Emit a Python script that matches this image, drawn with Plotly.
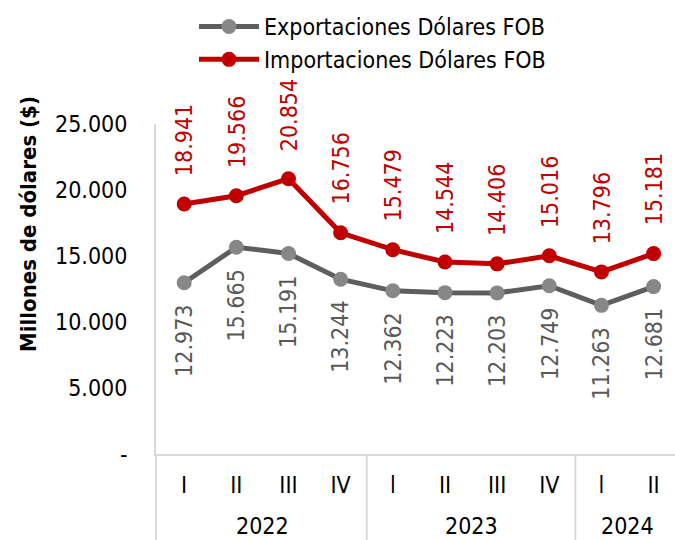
import plotly.graph_objects as go

years = ["2022", "2023", "2024"]
year_spans = [4, 4, 2]
quarters = ["I", "II", "III", "IV", "l", "II", "III", "IV", "l", "II"]
exports = [12973, 15665, 15191, 13244, 12362, 12223, 12203, 12749, 11263, 12681]
imports = [18941, 19566, 20854, 16756, 15479, 14544, 14406, 15016, 13796, 15181]
y_ticks = [0, 5000, 10000, 15000, 20000, 25000]

FONT = "DejaVu Sans Condensed, DejaVu Sans, sans-serif"
FS = 23
GREY_LINE = "#5E5E5E"
GREY_MARK = "#878787"
RED = "#C00000"


def fmt(v):
    return "-" if v == 0 else f"{v:,}".replace(",", ".")


x = list(range(len(quarters)))

fig = go.Figure()
fig.add_trace(go.Scatter(
    x=x, y=exports, mode="lines+markers", name="Exportaciones Dólares FOB",
    line=dict(color=GREY_LINE, width=5),
    marker=dict(color=GREY_MARK, size=15),
))
fig.add_trace(go.Scatter(
    x=x, y=imports, mode="lines+markers", name="Importaciones Dólares FOB",
    line=dict(color=RED, width=5),
    marker=dict(color=RED, size=15),
))

annotations = []
for xi, v in zip(x, imports):
    annotations.append(dict(x=xi, y=v, xref="x", yref="y", text=fmt(v), showarrow=False,
                            textangle=-90, yanchor="bottom", yshift=26,
                            font=dict(family=FONT, size=FS, color=RED)))
for xi, v in zip(x, exports):
    annotations.append(dict(x=xi, y=v, xref="x", yref="y", text=fmt(v), showarrow=False,
                            textangle=-90, yanchor="top", yshift=-20,
                            font=dict(family=FONT, size=FS, color="#595959")))

# year group labels and separators
plot_h = 454 - 124
plot_w = 675 - 156
shapes = []
start = 0
for i, (yr, span) in enumerate(zip(years, year_spans)):
    center = start + (span - 1) / 2
    annotations.append(dict(x=center, y=-(526 - 454) / plot_h, xref="x", yref="paper",
                            text=yr, showarrow=False, yanchor="middle",
                            font=dict(family=FONT, size=FS, color="#000000")))
    if i > 0:
        shapes.append(dict(type="line", xref="x", yref="paper", x0=start - 0.5, x1=start - 0.5,
                           y0=0, y1=-(540 - 454) / plot_h, line=dict(color="#D9D9D9", width=2)))
    start += span

# extend left axis line down
shapes.append(dict(type="line", xref="paper", yref="paper", x0=0, x1=0,
                   y0=0, y1=-(540 - 454) / plot_h, line=dict(color="#D9D9D9", width=2)))

annotations.append(dict(x=-(156 - 28) / plot_w, y=(454 - 224) / plot_h, xref="paper", yref="paper",
                        text="<b>Millones de dólares ($)</b>", showarrow=False, textangle=-90,
                        xanchor="center", yanchor="middle",
                        font=dict(family=FONT, size=22, color="#000000")))

fig.update_layout(
    width=675, height=540,
    margin=dict(l=156, r=0, t=124, b=86, autoexpand=False),
    paper_bgcolor="white", plot_bgcolor="white",
    font=dict(family=FONT, size=FS, color="#000000"),
    showlegend=True,
    legend=dict(x=(194 - 156) / plot_w, y=1 + (124 - 5) / plot_h, xanchor="left", yanchor="top",
                orientation="v", font=dict(family=FONT, size=FS, color="#000000"),
                itemwidth=60, tracegroupgap=0, bgcolor="rgba(0,0,0,0)"),
    xaxis=dict(range=[-0.54, 9.41], tickvals=x, ticktext=quarters, showgrid=False, zeroline=False,
               showline=True, linecolor="#D9D9D9", linewidth=2, ticks="", automargin=False,
               ticklabelstandoff=9, tickfont=dict(family=FONT, size=FS, color="#000000")),
    yaxis=dict(range=[0, 25000], tickvals=y_ticks, ticktext=[fmt(v) for v in y_ticks],
               showgrid=False, zeroline=False, showline=True, linecolor="#D9D9D9", linewidth=2,
               ticks="", ticklabelstandoff=22, automargin=False,
               tickfont=dict(family=FONT, size=FS, color="#000000")),
    annotations=annotations,
    shapes=shapes,
)

fig.write_html("out.html", config={"displayModeBar": False},
               post_script="document.body.style.margin='0';document.body.style.overflow='hidden';")
